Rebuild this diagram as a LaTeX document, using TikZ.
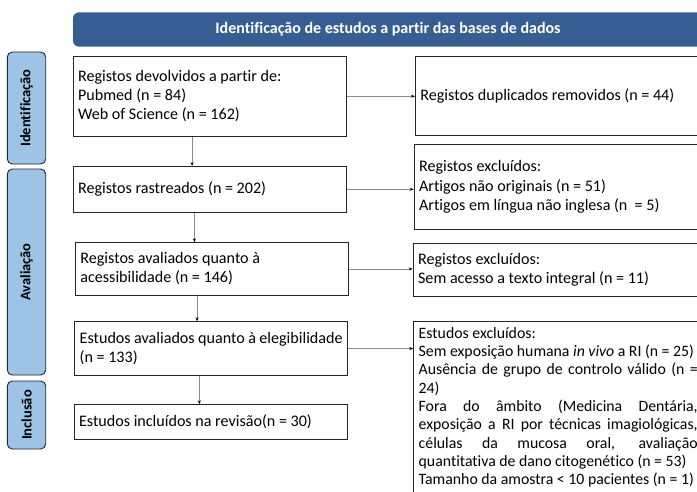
\documentclass[tikz,border=0pt]{standalone}
\usepackage{fontspec}
\setmainfont{Carlito}[Ligatures=NoCommon]
\usetikzlibrary{arrows.meta}
\definecolor{barblue}{HTML}{375E92}
\definecolor{phaseblue}{HTML}{9DC3E6}
\newlength\exwidth
\setlength\exwidth{279pt}

\begin{document}
\begin{tikzpicture}[x=1pt, y=-1pt,
  box/.style={draw=black!85, line width=0.8pt, anchor=north west, inner xsep=5pt, inner ysep=0pt,
    align=flush left, font=\fontsize{16.1}{19.2}\selectfont},
  phase/.style={draw=black!85, fill=phaseblue, line width=0.9pt, rounded corners=5pt, rotate=90,
    inner sep=0pt, font=\fontsize{14.5}{16}\selectfont\bfseries},
  link/.style={draw=black!45, line width=0.6pt, -{Stealth[length=4pt, width=3pt, color=black]}}]
\clip (0,0) rectangle (697,491);

\node[fill=barblue, rounded corners=6pt, minimum width=630pt, minimum height=34.4pt, text=white,
  font=\fontsize{16}{18}\selectfont\bfseries] (title) at (388,29.5)
  {Identificação de estudos a partir das bases de dados};

\node[phase, minimum width=112pt, minimum height=38.4pt] (pid) at (26.5,108) {Identificação};
\node[phase, minimum width=206pt, minimum height=38.4pt] (pav) at (26.5,272) {Avaliação};
\node[phase, minimum width=68pt, minimum height=38.4pt] (pin) at (26.5,415) {Inclusão};

% coluna da esquerda
\node[box, text width=263pt, minimum height=79.7pt] (reg) at (72.7,56)
  {Registos devolvidos a partir de:\\Pubmed (n = 84)\\Web of Science (n = 162)};
\node[box, text width=263pt, minimum height=45.7pt] (rast) at (72.7,166)
  {Registos rastreados (n = 202)};
\node[box, text width=262.7pt, minimum height=52.4pt] (acess) at (75,242.3)
  {Registos avaliados quanto à\\acessibilidade (n = 146)};
\node[box, text width=263pt, minimum height=53.7pt] (eleg) at (74.3,321.3)
  {Estudos avaliados quanto à elegibilidade\\(n = 133)};
\node[box, text width=263pt, minimum height=35pt] (incl) at (73.7,404.3)
  {Estudos incluídos na revisão(n = 30)};

% coluna da direita
\node[box, text width=280pt, minimum height=79pt] (dup) at (415,56)
  {Registos duplicados removidos (n = 44)};
\node[box, text width=281pt, minimum height=85pt] (ex1) at (413.7,144)
  {Registos excluídos:\\Artigos não originais (n = 51)\\Artigos em língua não inglesa (n~ = 5)};
\node[box, text width=282pt, minimum height=53.3pt] (ex2) at (412.7,242.7)
  {Registos excluídos:\\Sem acesso a texto integral (n = 11)};
\node[box, text width=\exwidth, inner ysep=6pt, font=\fontsize{15.8}{18.3}\selectfont] (ex3) at (413.3,321)
  {Estudos excluídos:\\
   Sem exposição humana \textit{in vivo} a RI (n = 25)\\
   \makebox[\exwidth][s]{Ausência de grupo de controlo válido (n =}\\
   24)\\
   \makebox[\exwidth][s]{Fora do âmbito (Medicina Dentária,}\\
   \makebox[\exwidth][s]{exposição a RI por técnicas imagiológicas,}\\
   \makebox[\exwidth][s]{células da mucosa oral, avaliação}\\
   quantitativa de dano citogenético (n = 53)\\
   Tamanho da amostra < 10 pacientes (n = 1)};

\draw[link] ([xshift=-17.5pt]reg.south) -- ([xshift=-17.5pt]reg.south |- rast.north);
\draw[link] ([xshift=-15.2pt]rast.south) -- ([xshift=-15.2pt]rast.south |- acess.north);
\draw[link] ([xshift=-14.7pt]acess.south) -- ([xshift=-14.7pt]acess.south |- eleg.north);
\draw[link] ([xshift=-11.8pt]eleg.south) -- ([xshift=-11.8pt]eleg.south |- incl.north);

\draw[link] (reg.east) -- (reg.east -| dup.west);
\draw[link] (rast.east) -- (rast.east -| ex1.west);
\draw[link] (acess.east) -- (acess.east -| ex2.west);
\draw[link] (eleg.east) -- (eleg.east -| ex3.west);
\end{tikzpicture}
\end{document}
